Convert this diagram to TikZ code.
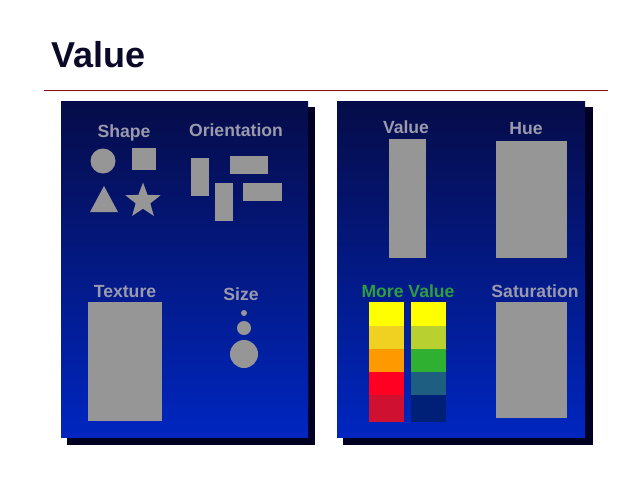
\documentclass[tikz,border=0pt]{standalone}
\usepackage{fontspec}
\setmainfont{Liberation Sans}
\usetikzlibrary{shapes.geometric}
\definecolor{titlecol}{HTML}{0A0A28}
\definecolor{rulecol}{HTML}{8A1010}
\definecolor{paneltop}{HTML}{060C48}
\definecolor{panelbot}{HTML}{0026C0}
\definecolor{shadowcol}{HTML}{000022}
\definecolor{labelgray}{HTML}{9A9AAC}
\definecolor{shapegray}{HTML}{969696}
\definecolor{morevalue}{HTML}{2E9E40}
\definecolor{ya}{HTML}{FFFF00}
\definecolor{yb}{HTML}{F0D020}
\definecolor{yc}{HTML}{FF9900}
\definecolor{yd}{HTML}{FF0022}
\definecolor{ye}{HTML}{D01030}
\definecolor{gb}{HTML}{B8D030}
\definecolor{gc}{HTML}{30B030}
\definecolor{gd}{HTML}{1E5E80}
\definecolor{ge}{HTML}{002078}
\tikzset{
  lbl/.style={anchor=base, text=labelgray, font=\fontsize{17.6}{20}\selectfont\bfseries, inner sep=0pt},
  gshape/.style={fill=shapegray, draw=none},
  shadowbox/.style={fill=shadowcol, draw=none},
}
\begin{document}
\begin{tikzpicture}[x=1pt,y=-1pt]
\useasboundingbox (0,0) rectangle (640,480);
% title
\node[anchor=base west, inner sep=0pt, text=titlecol, font=\fontsize{36}{40}\selectfont\bfseries] (title) at (51,67) {Value};
\draw[rulecol, line width=1pt] (44,90) -- (608,90);
% panels
\fill[shadowbox] (67,107) rectangle (315,445);
\shade[top color=paneltop, bottom color=panelbot] (61,101) rectangle (308,437);
\fill[shadowbox] (343,107) rectangle (593,445);
\shade[top color=paneltop, bottom color=panelbot] (337,101) rectangle (585,437);
% left panel, top
\node[lbl] (shape) at (124,137) {Shape};
\node[lbl] (orient) at (236,136) {Orientation};
\fill[gshape] (103,161) circle (12.5);
\fill[gshape] (132,148) rectangle (156,170);
\fill[gshape] (90,212) -- (118,212) -- (104,186) -- cycle;
\node[star, star points=5, star point ratio=2.4, minimum size=37pt, inner sep=0pt, gshape] (star) at (143,201) {};
\fill[gshape] (191,158) rectangle (209,196);
\fill[gshape] (230,156) rectangle (268,174);
\fill[gshape] (215,183) rectangle (233,221);
\fill[gshape] (243,183) rectangle (282,201);
% left panel, bottom
\node[lbl] (texture) at (125,297) {Texture};
\fill[gshape] (88,302) rectangle (162,421);
\node[lbl] (size) at (241,300) {Size};
\fill[gshape] (244,313) circle (3);
\fill[gshape] (244,328) circle (7);
\fill[gshape] (244,354) circle (14);
% right panel, top
\node[lbl] (value) at (406,133) {Value};
\node[lbl] (hue) at (526,134) {Hue};
\fill[gshape] (389,139) rectangle (426,258);
\fill[gshape] (496,141) rectangle (567,258);
% right panel, bottom
\node[lbl, text=morevalue] (more) at (408,297) {More Value};
\node[lbl] (sat) at (535,297) {Saturation};
\fill[gshape] (496,302) rectangle (567,418);
\fill[ya] (369,302) rectangle (404,326);
\fill[yb] (369,326) rectangle (404,349);
\fill[yc] (369,349) rectangle (404,372);
\fill[yd] (369,372) rectangle (404,395);
\fill[ye] (369,395) rectangle (404,422);
\fill[ya] (411,302) rectangle (446,326);
\fill[gb] (411,326) rectangle (446,349);
\fill[gc] (411,349) rectangle (446,372);
\fill[gd] (411,372) rectangle (446,395);
\fill[ge] (411,395) rectangle (446,422);
\end{tikzpicture}
\end{document}
